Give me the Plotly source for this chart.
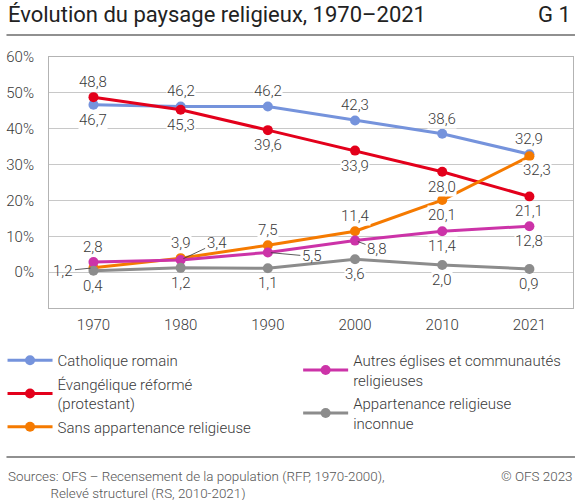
import plotly.graph_objects as go

# data
years = ["1970", "1980", "1990", "2000", "2010", "2021"]
catholique = [46.7, 46.2, 46.2, 42.3, 38.6, 32.9]
reforme = [48.8, 45.3, 39.6, 33.9, 28.0, 21.1]
sans = [1.2, 3.9, 7.5, 11.4, 20.1, 32.3]
autres = [2.8, 3.4, 5.5, 8.8, 11.4, 12.8]
inconnue = [0.4, 1.2, 1.1, 3.6, 2.0, 0.9]

y_ticks = [0, 10, 20, 30, 40, 50, 60]

series = [
    ("Catholique romain", catholique, "#7593dc", "legend"),
    ("Évangélique réformé<br>(protestant)", reforme, "#e3001b", "legend"),
    ("Sans appartenance religieuse", sans, "#f57a00", "legend"),
    ("Autres églises et communautés<br>religieuses", autres, "#cc33a8", "legend2"),
    ("Appartenance religieuse<br>inconnue", inconnue, "#8c8c8c", "legend2"),
]

# label offsets in pixels (dx, dy, leader line)
U, D = (0, -15, False), (0, 15, False)
offsets = [
    [D, U, U, U, U, U],
    [U, D, D, D, D, D],
    [(-30, 3, True), U, U, U, D, (8, 14, False)],
    [U, (36, -17, True), (44, 4, True), (22, 8, True), D, D],
    [D, D, D, D, D, D],
]

# plot area in pixels, used to place page furniture
L, T, W, H = 43, 57, 530, 251
FONT = "Roboto"
LABEL = dict(family=FONT, size=15, color="#3a3a3a", weight=300)


def px(x):
    return (x - L) / W


def py(y):
    return (T + H - y) / H


fig = go.Figure()
for name, vals, color, leg in series:
    fig.add_trace(go.Scatter(
        x=years, y=vals, name=name, mode="lines+markers",
        line=dict(color=color, width=3),
        marker=dict(color=color, size=10),
        legend=leg, legendgroup=name, hoverinfo="skip",
    ))

for (name, vals, color, leg), offs in zip(series, offsets):
    for i, (v, (dx, dy, lead)) in enumerate(zip(vals, offs)):
        label = f"{v:.1f}".replace(".", ",")
        if lead:
            fig.add_annotation(
                x=i, y=v, xref="x", yref="y", text=label,
                showarrow=True, arrowhead=0, arrowwidth=0.8,
                arrowcolor="#333333", ax=dx, ay=dy, standoff=3,
                font=LABEL,
            )
        else:
            fig.add_annotation(
                x=i, y=v, xref="x", yref="y", text=label,
                showarrow=False, xshift=dx, yshift=-dy,
                bgcolor="white", borderpad=0, font=LABEL,
            )

fig.add_annotation(text="Évolution du paysage religieux, 1970–2021",
                   x=px(0), y=py(15), xref="paper", yref="paper",
                   showarrow=False, xanchor="left", yanchor="middle",
                   font=dict(family=FONT, size=22, color="#222222"))
fig.add_annotation(text="G 1", x=px(573), y=py(15), xref="paper", yref="paper",
                   showarrow=False, xanchor="right", yanchor="middle",
                   font=dict(family=FONT, size=22, color="#222222"))
fig.add_annotation(text="Sources: OFS – Recensement de la population (RFP, 1970-2000),<br>"
                        "             Relevé structurel (RS, 2010-2021)",
                   x=px(0), y=py(467), xref="paper", yref="paper",
                   showarrow=False, align="left", xanchor="left", yanchor="top",
                   font=dict(family=FONT, size=13.4, color="#555555", weight=300))
fig.add_annotation(text="© OFS 2023", x=px(574), y=py(467), xref="paper",
                   yref="paper", showarrow=False, xanchor="right", yanchor="top",
                   font=dict(family=FONT, size=13.4, color="#555555", weight=300))

legend_style = dict(yanchor="top", xanchor="left", itemwidth=45,
                    tracegroupgap=1, bgcolor="rgba(0,0,0,0)",
                    font=dict(family=FONT, size=15, color="#3a3a3a", weight=300))

fig.update_layout(
    width=575, height=500,
    margin=dict(l=L, r=575 - L - W, t=T, b=500 - T - H),
    paper_bgcolor="white", plot_bgcolor="white",
    font=dict(family=FONT, size=15, color="#3a3a3a"),
    xaxis=dict(type="category", range=[-0.51, 5.5], showgrid=False,
               showline=True, linecolor="#b3b3b3", mirror=True, ticks="",
               ticklabelstandoff=3, tickfont=LABEL),
    yaxis=dict(range=[-10, 60], tickvals=y_ticks,
               ticktext=[f"{t}%" for t in y_ticks],
               showgrid=True, gridcolor="#c8c8c8", gridwidth=1,
               zeroline=False, showline=True, linecolor="#b3b3b3", mirror=True,
               ticks="", ticklabelstandoff=11, tickfont=LABEL),
    legend=dict(x=px(-4), y=py(344), **legend_style),
    legend2=dict(x=px(295), y=py(344), **legend_style),
    showlegend=True,
)

# title underline and footer separator
for ypix in (35, 457):
    fig.add_shape(type="line", xref="paper", yref="paper", x0=px(0), x1=px(575),
                  y0=py(ypix), y1=py(ypix), line=dict(color="#222222", width=1.2))

fig.write_html("out.html", config={"displayModeBar": False},
               post_script="document.body.style.margin='0';")
